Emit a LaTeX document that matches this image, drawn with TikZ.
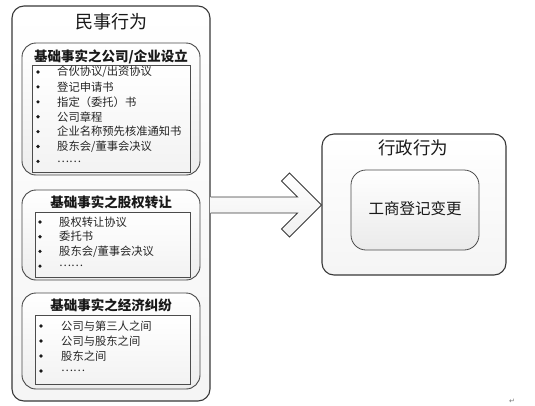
\documentclass[tikz,border=0pt]{standalone}
\usepackage{fontspec}
\usetikzlibrary{calc}
\newfontfamily\cjk{Noto Sans CJK SC}
\newfontfamily\dejavu{DejaVu Sans}
\begin{document}
\begin{tikzpicture}[x=1pt,y=-1pt,
  outerbox/.style={draw=black!78, line width=1.1pt, rounded corners=12pt, top color=white, bottom color=black!4, inner sep=0pt},
  groupbox/.style={draw=black!72, line width=0.9pt, rounded corners=14pt, top color=white, bottom color=black!7, inner sep=0pt},
  listbox/.style={draw=black!70, line width=0.6pt, top color=white, bottom color=black!5, inner sep=0pt},
  innerbox/.style={draw=black!70, line width=0.8pt, rounded corners=15pt, top color=white, bottom color=black!8, inner sep=0pt},
  bigtitle/.style={font=\cjk\fontsize{18}{20}\selectfont, text=black!90, inner sep=0pt},
  grouptitle/.style={font=\cjk\bfseries\fontsize{13.5}{15}\selectfont, text=black!90, inner sep=0pt},
  itemtext/.style={anchor=west, font=\cjk\fontsize{11.3}{13}\selectfont, text=black!85, inner sep=0pt},
  bulletdot/.style={circle, fill=black!90, inner sep=0pt, minimum size=3.6pt}
]
\useasboundingbox (0,0) rectangle (535,405);

% left outer box
\node[outerbox, minimum width=198pt, minimum height=395pt] (civil) at (111,203.5) {};
\node[bigtitle] (civilT) at (111,22) {民事行为};

% group 1
\node[groupbox, minimum width=178pt, minimum height=132pt] (g1) at (111,109) {};
\node[grouptitle] (g1T) at (111,57) {基础事实之公司/企业设立};
\node[listbox, minimum width=158pt, minimum height=107pt] (l1) at (111,118.5) {};
\foreach \t [count=\i] in {合伙协议/出资协议, 登记申请书, 指定（委托）书, 公司章程, 企业名称预先核准通知书, 股东会/董事会决议, ……}{
  \node[bulletdot] (b1-\i) at (38,{72+(\i-1)*14.9}) {};
  \node[itemtext] (t1-\i) at (57,{72+(\i-1)*14.9}) {\t};
}

% group 2
\node[groupbox, minimum width=178pt, minimum height=90pt] (g2) at (111,235) {};
\node[grouptitle] (g2T) at (111,202) {基础事实之股权转让};
\node[listbox, minimum width=155pt, minimum height=65pt] (l2) at (112.5,244.5) {};
\foreach \t [count=\i] in {股权转让协议, 委托书, 股东会/董事会决议, ……}{
  \node[bulletdot] (b2-\i) at (40,{222+(\i-1)*14.7}) {};
  \node[itemtext] (t2-\i) at (59,{222+(\i-1)*14.7}) {\t};
}

% group 3
\node[groupbox, minimum width=178pt, minimum height=96pt] (g3) at (111,341) {};
\node[grouptitle] (g3T) at (111,305) {基础事实之经济纠纷};
\node[listbox, minimum width=155pt, minimum height=69pt] (l3) at (112.5,349.5) {};
\foreach \t [count=\i] in {公司与第三人之间, 公司与股东之间, 股东之间, ……}{
  \node[bulletdot] (b3-\i) at (41,{326+(\i-1)*15}) {};
  \node[itemtext] (t3-\i) at (61,{326+(\i-1)*15}) {\t};
}

% right box
\node[outerbox, minimum width=184pt, minimum height=141pt] (admin) at (414,204.5) {};
\node[bigtitle, font=\cjk\fontsize{17.5}{19}\selectfont] (adminT) at (413,148) {行政行为};
\node[innerbox, minimum width=128pt, minimum height=80pt] (reg) at (415,210) {};
\node[font=\cjk\fontsize{15.5}{17}\selectfont, text=black!90, inner sep=0pt] (regT) at (415,209) {工商登记变更};

% chevron arrow from civil to admin
\coordinate (s) at (civil.east |- 0,205);
\coordinate (e) at (admin.west |- 0,205);
\draw[draw=black!78, line width=0.9pt, top color=white, bottom color=black!6, line join=miter]
  ($(s)+(0,-8)$) -- ($(e)+(-24,-8)$) -- ($(e)+(-40,-24)$) -- ($(e)+(-32,-32)$) -- (e)
  -- ($(e)+(-32,32)$) -- ($(e)+(-40,24)$) -- ($(e)+(-24,8)$) -- ($(s)+(0,8)$);

% paragraph mark
\node[font=\dejavu\fontsize{7}{8}\selectfont, text=black!55, inner sep=0pt] (pm) at (512,401) {↵};
\end{tikzpicture}
\end{document}
